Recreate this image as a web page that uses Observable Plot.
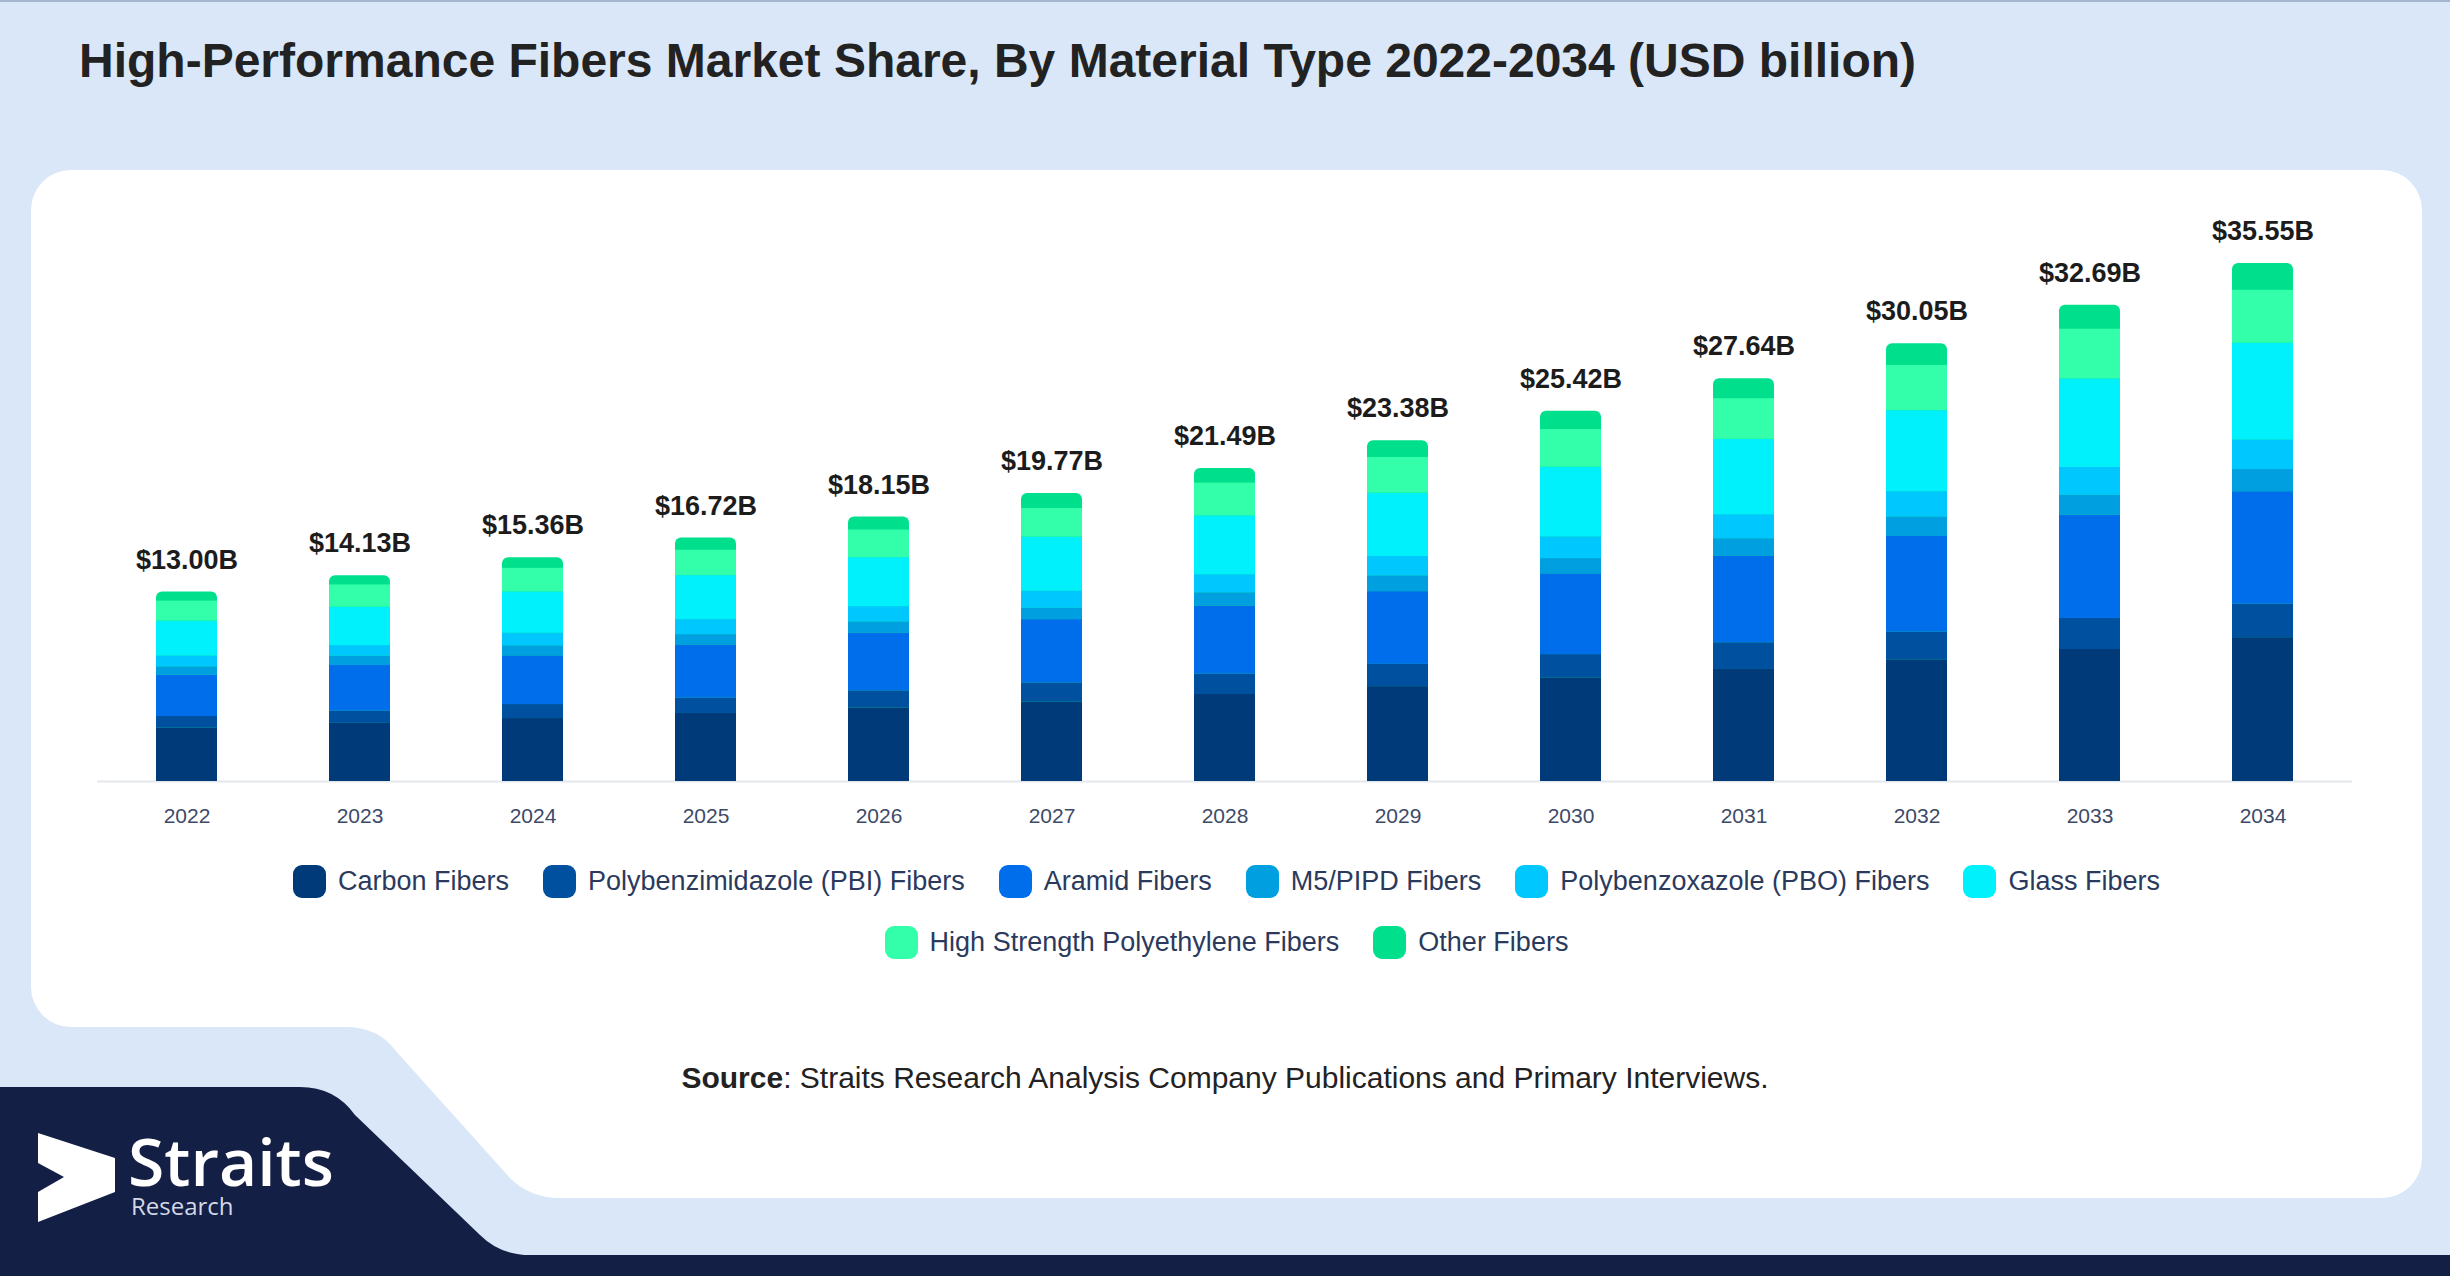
<!DOCTYPE html>
<html>
<head>
<meta charset="utf-8">
<script src="https://cdn.jsdelivr.net/npm/d3@7"></script>
<script src="https://cdn.jsdelivr.net/npm/@observablehq/plot@0.6"></script>
<style>
html, body { margin: 0; padding: 0; }
body { width: 2450px; height: 1276px; overflow: hidden; font-family: "Liberation Sans", Arial, sans-serif; }
#page { position: relative; width: 2450px; height: 1276px; background: #DAE7F8; }
#deco { position: absolute; left: 0; top: 0; }
#title { position: absolute; left: 79px; top: 37px; font-size: 48px; line-height: 48px; font-weight: bold; color: #222; white-space: nowrap; }
#chart { position: absolute; left: 0; top: 170px; }
.legend-row { position: absolute; left: 31px; width: 2391px; height: 34px; display: flex; justify-content: center; align-items: center; }
.legend-item { display: flex; align-items: center; margin: 0 17px; }
.sw { width: 33px; height: 33px; border-radius: 9px; margin-right: 12px; }
.lt { font-size: 27px; color: #2b3a5c; white-space: nowrap; }
#source { position: absolute; left: 0; width: 2450px; top: 1063px; text-align: center; font-size: 30px; line-height: 30px; color: #222; }
#logo1 { position: absolute; left: 128px; top: 1131px; font-family: "Open Sans", sans-serif; font-weight: 600; font-size: 66px; line-height: 58px; height: 58px; color: #fff; }
#logo2 { position: absolute; left: 131px; top: 1196px; font-family: "Open Sans", sans-serif; font-size: 24px; line-height: 20px; height: 20px; color: #d3d9e6; }
</style>
</head>
<body>
<div id="page">
  <svg id="deco" width="2450" height="1276">
    <rect x="0" y="0" width="2450" height="2" fill="#a7b6cf"></rect>
    <path d="M 71 170 H 2382 A 40 40 0 0 1 2422 210 V 1158 A 40 40 0 0 1 2382 1198 H 560 Q 530 1198 510 1178 L 395 1050 Q 378 1027 345 1027 H 71 A 40 40 0 0 1 31 987 V 210 A 40 40 0 0 1 71 170 Z" fill="#ffffff"></path>
    <path d="M 0 1087 H 300 Q 335 1087 355 1115 L 480 1235 Q 500 1255 530 1255 H 2450 V 1276 H 0 Z" fill="#131f44"></path>
    <path d="M 38 1133 L 115 1158 L 115 1192 L 38 1222 L 38 1192 L 64 1177 L 38 1163 Z" fill="#ffffff"></path>
  </svg>
  <div id="title">High-Performance Fibers Market Share, By Material Type 2022-2034 (USD billion)</div>
  <div id="chart"></div>
  <div class="legend-row" id="row1" style="top:864px"></div>
  <div class="legend-row" id="row2" style="top:925px"></div>
  <div id="source"><b>Source</b>: Straits Research Analysis Company Publications and Primary Interviews.</div>
  <div id="logo1">Straits</div>
  <div id="logo2">Research</div>
</div>
<script>
const years = ["2022","2023","2024","2025","2026","2027","2028","2029","2030","2031","2032","2033","2034"];
const seriesNames = ["Carbon Fibers", "Polybenzimidazole (PBI) Fibers", "Aramid Fibers", "M5/PIPD Fibers", "Polybenzoxazole (PBO) Fibers", "Glass Fibers", "High Strength Polyethylene Fibers", "Other Fibers"];
const colors = ["#003a78", "#0050a0", "#006eeb", "#00a0e0", "#00c8ff", "#00f0fc", "#33ffaa", "#00e08c"];

const carbon = [3.66, 3.99, 4.32, 4.67, 5.05, 5.45, 5.97, 6.51, 7.11, 7.69, 8.35, 9.06, 9.87];
const pbi    = [0.80, 0.84, 0.96, 1.05, 1.17, 1.31, 1.40, 1.53, 1.60, 1.83, 1.90, 2.13, 2.30];
const aramid = [2.83, 3.13, 3.34, 3.65, 3.95, 4.35, 4.66, 4.99, 5.54, 5.95, 6.57, 7.09, 7.72];
const m5     = [0.57, 0.64, 0.69, 0.71, 0.78, 0.78, 0.92, 1.08, 1.05, 1.19, 1.33, 1.37, 1.52];
const pbo    = [0.75, 0.73, 0.87, 1.03, 1.05, 1.17, 1.24, 1.33, 1.49, 1.65, 1.74, 1.90, 2.03];
const glass  = [2.40, 2.63, 2.83, 3.02, 3.36, 3.71, 4.04, 4.35, 4.78, 5.17, 5.56, 6.08, 6.64];
const hspe   = [1.37, 1.53, 1.62, 1.74, 1.90, 1.97, 2.25, 2.45, 2.59, 2.79, 3.11, 3.41, 3.63];
const other  = [0.62, 0.64, 0.73, 0.85, 0.89, 1.03, 1.01, 1.14, 1.26, 1.37, 1.49, 1.65, 1.84];
const totals = [13.00, 14.13, 15.36, 16.72, 18.15, 19.77, 21.49, 23.38, 25.42, 27.64, 30.05, 32.69, 35.55];

const seriesValues = [carbon, pbi, aramid, m5, pbo, glass, hspe, other];
const rows = [];
seriesNames.forEach((s, i) => years.forEach((y, j) => rows.push({year: y, series: s, value: seriesValues[i][j]})));
const lower = rows.filter(d => d.series !== "Other Fibers");
const totalRows = years.map((y, j) => ({year: y, total: totals[j]}));

const chart = Plot.plot({
  width: 2450,
  height: 690,
  marginLeft: 97,
  marginRight: 98,
  marginTop: 0,
  marginBottom: 79,
  style: {background: "transparent", overflow: "visible", fontFamily: "Liberation Sans, Arial, sans-serif"},
  x: {type: "band", domain: years, paddingInner: 0.648, paddingOuter: 0.324, label: null},
  y: {domain: [0, 40], range: [611, 611 - 40 * 14.57], axis: null},
  color: {domain: seriesNames, range: colors},
  marks: [
    Plot.ruleY([0], {stroke: "#e4e7eb", strokeWidth: 2}),
    Plot.barY(totalRows, {x: "year", y: "total", fill: colors[7], rx: 6}),
    Plot.barY(lower, Plot.stackY({x: "year", y: "value", fill: "series", order: seriesNames})),
    Plot.text(totalRows, {x: "year", y: "total", text: d => `$${d.total.toFixed(2)}B`, dy: -32, fontSize: 27, fontWeight: "bold", fill: "#1c1c1c"}),
    Plot.axisX({tickSize: 0, tickPadding: 27, fontSize: 21, fill: "#3d4a68", label: null})
  ]
});
document.getElementById("chart").appendChild(chart);

function addItems(rowId, idxs) {
  const row = document.getElementById(rowId);
  idxs.forEach(i => {
    const item = document.createElement("div");
    item.className = "legend-item";
    const sw = document.createElement("div");
    sw.className = "sw";
    sw.style.background = colors[i];
    const lt = document.createElement("div");
    lt.className = "lt";
    lt.textContent = seriesNames[i];
    item.appendChild(sw);
    item.appendChild(lt);
    row.appendChild(item);
  });
}
addItems("row1", [0, 1, 2, 3, 4, 5]);
addItems("row2", [6, 7]);
</script>
</body>
</html>
